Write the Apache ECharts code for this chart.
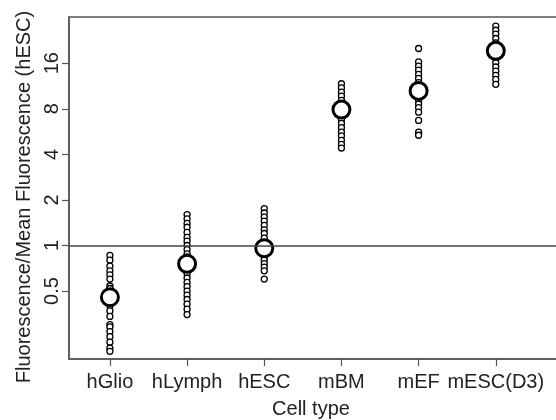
<!DOCTYPE html>
<html>
<head>
<meta charset="utf-8">
<script src="https://cdn.jsdelivr.net/npm/echarts@6/dist/echarts.min.js"></script>
<style>
  html, body { margin: 0; padding: 0; background: #fff; }
  #chart { width: 556px; height: 420px; }
</style>
</head>
<body>
<div id="chart"></div>
<script>
// cell types on the x axis
var cellTypes = ['hGlio', 'hLymph', 'hESC', 'mBM', 'mEF', 'mESC(D3)'];

// fluorescence relative to mean hESC, one array per cell type
var hGlio = [0.86, 0.80, 0.73, 0.68, 0.64, 0.60, 0.54, 0.52, 0.49, 0.46, 0.43, 0.40, 0.37, 0.34,
  0.30, 0.29, 0.27, 0.25, 0.23, 0.21, 0.20];
var hLymph = [1.60, 1.50, 1.40, 1.32, 1.22, 1.13, 1.07, 1.00, 0.94, 0.88, 0.84, 0.80, 0.76, 0.72,
  0.68, 0.65, 0.61, 0.57, 0.535, 0.50, 0.47, 0.44, 0.41, 0.38, 0.35];
var hESC = [1.75, 1.64, 1.54, 1.45, 1.36, 1.27, 1.20, 1.12, 1.05, 1.00, 0.95, 0.92, 0.88, 0.84,
  0.80, 0.76, 0.72, 0.68, 0.60];
var mBM = [11.7, 11.0, 10.3, 9.7, 9.1, 8.6, 8.2, 7.9, 7.6, 7.2, 6.8, 6.4, 6.0, 5.6, 5.3, 4.95,
  4.66, 4.40];
var mEF = [20.0, 16.3, 15.3, 14.4, 13.5, 12.7, 11.9, 11.2, 10.5, 9.8, 9.1, 8.6, 8.15, 7.6, 6.7,
  5.6, 5.35];
var mESC = [28.1, 26.4, 24.9, 23.3, 21.8, 20.5, 19.3, 18.2, 17.2, 16.1, 15.1, 14.2, 13.3, 12.5,
  11.6];

// mean of each cell type (big open circles)
var means = [0.455, 0.757, 0.96, 7.9, 10.5, 19.3];

var yTicks = [0.5, 1, 2, 4, 8, 16];
var xTicks = [1, 2, 3, 4, 5, 6];

var groups = [hGlio, hLymph, hESC, mBM, mEF, mESC];
var points = [];
groups.forEach(function (vals, i) {
  vals.forEach(function (v) {
    points.push([i + 1, v]);
  });
});
var meanPoints = means.map(function (v, i) { return [i + 1, v]; });

var font = 'Liberation Sans, Arial, sans-serif';
var chart = echarts.init(document.getElementById('chart'));

chart.setOption({
  animation: false,
  grid: {
    left: 69, top: 17, right: -5, bottom: 61,
    outerBoundsMode: 'none',
    show: true, borderColor: '#555', borderWidth: 1.5
  },
  xAxis: {
    type: 'value',
    min: 0.47,
    max: 6.845,
    name: 'Cell type',
    nameLocation: 'middle',
    nameGap: 40,
    nameTextStyle: { fontSize: 20, color: '#222', fontFamily: font, padding: [0, 8, 0, 0] },
    splitLine: { show: false },
    axisLine: { show: true, lineStyle: { color: '#555', width: 1.5 } },
    axisTick: { show: true, customValues: xTicks, length: 7, lineStyle: { color: '#555', width: 1.2 } },
    axisLabel: {
      customValues: xTicks,
      margin: 13,
      fontSize: 20,
      color: '#222',
      fontFamily: font,
      formatter: function (v) { return cellTypes[Math.round(v) - 1] || ''; }
    }
  },
  yAxis: {
    type: 'log',
    logBase: 2,
    min: 0.178,
    max: 32.3,
    name: 'Fluorescence/Mean Fluorescence (hESC)',
    nameLocation: 'middle',
    nameRotate: 90,
    nameGap: 34,
    nameTextStyle: { fontSize: 20, color: '#222', fontFamily: font, padding: [0, 18, 0, 0] },
    splitLine: { show: false },
    axisLine: { show: true, lineStyle: { color: '#555', width: 1.5 } },
    axisTick: { show: true, customValues: yTicks, length: 7, lineStyle: { color: '#555', width: 1.2 } },
    axisLabel: {
      customValues: yTicks,
      rotate: 90,
      margin: 7,
      fontSize: 20,
      color: '#222',
      fontFamily: font,
      formatter: function (v) { return String(v); }
    }
  },
  series: [
    {
      type: 'scatter',
      data: points,
      symbol: 'circle',
      symbolSize: 6,
      itemStyle: { color: '#fff', borderColor: '#000', borderWidth: 1.3, opacity: 1 },
      markLine: {
        silent: true,
        symbol: 'none',
        label: { show: false },
        lineStyle: { color: '#444', width: 1.5, type: 'solid', opacity: 1 },
        data: [{ yAxis: 1 }]
      },
      z: 2
    },
    {
      type: 'scatter',
      data: meanPoints,
      symbol: 'circle',
      symbolSize: 17,
      itemStyle: { color: '#fff', borderColor: '#000', borderWidth: 3, opacity: 1 },
      z: 3
    }
  ]
});
</script>
</body>
</html>
